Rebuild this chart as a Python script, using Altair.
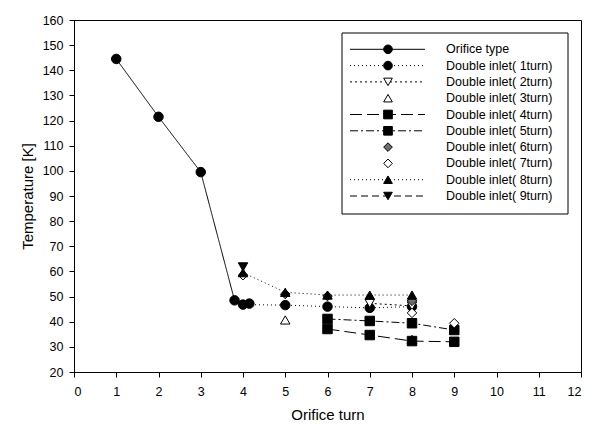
import altair as alt
import pandas as pd

# ---------------- data ----------------
series_names = [
    "Orifice type",
    "Double inlet( 1turn)",
    "Double inlet( 2turn)",
    "Double inlet( 3turn)",
    "Double inlet( 4turn)",
    "Double inlet( 5turn)",
    "Double inlet( 6turn)",
    "Double inlet( 7turn)",
    "Double inlet( 8turn)",
    "Double inlet( 9turn)",
]

orifice_x = [1, 2, 3, 3.8, 4.15]
orifice_y = [144.5, 121.5, 99.5, 48.5, 47.2]
di1_x = [4, 5, 6, 7, 8]
di1_y = [46.8, 46.6, 46.0, 45.5, 46.0]
di2_x = [7, 8]
di2_y = [47.3, 46.3]
di3_x = [5, 8]
di3_y = [40.7, 33.0]
di4_x = [6, 7, 8, 9]
di4_y = [37.1, 34.7, 32.3, 32.0]
di5_x = [6, 7, 8, 9]
di5_y = [41.1, 40.3, 39.4, 36.7]
di6_x = [5, 6, 8]
di6_y = [51.0, 50.2, 48.3]
di7_x = [4, 8, 9]
di7_y = [58.5, 43.5, 39.4]
di8_x = [4, 5, 6, 7, 8]
di8_y = [59.5, 51.7, 50.6, 50.6, 50.6]
di9_x = [4]
di9_y = [61.8]

all_x = [orifice_x, di1_x, di2_x, di3_x, di4_x, di5_x, di6_x, di7_x, di8_x, di9_x]
all_y = [orifice_y, di1_y, di2_y, di3_y, di4_y, di5_y, di6_y, di7_y, di8_y, di9_y]

x_ticks = list(range(0, 13))
y_ticks = list(range(20, 161, 10))

# ---------------- styles ----------------
shapes = ["circle", "circle", "triangle-down", "triangle-up", "square",
          "square", "diamond", "diamond", "triangle-up", "triangle-down"]
fills = ["black", "black", "white", "white", "black",
         "black", "#6e6e6e", "white", "black", "black"]
dashes = [[1, 0], [1, 3], [2, 3], [1, 0], [12, 5],
          [8, 3, 2, 3], [1, 0], [1, 0], [1, 3], [7, 4]]
has_line = [True, True, True, False, True, True, False, False, True, True]

rows = []
for name, xv, yv in zip(series_names, all_x, all_y):
    for a, b in zip(xv, yv):
        rows.append({"series": name, "x": a, "y": b})
df = pd.DataFrame(rows)
line_names = [n for n, h in zip(series_names, has_line) if h]
line_df = df[df["series"].isin(line_names)]

legend_df = pd.DataFrame({"series": series_names, "row": list(range(len(series_names)))})
legend_line_df = legend_df[legend_df["series"].isin(line_names)]

FONT = "Liberation Sans"

x_scale = alt.Scale(domain=[0, 12], nice=False, zero=False)
y_scale = alt.Scale(domain=[20, 160], nice=False, zero=False)
shape_scale = alt.Scale(domain=series_names, range=shapes)
fill_scale = alt.Scale(domain=series_names, range=fills)
dash_scale = alt.Scale(domain=series_names, range=dashes)

x_axis = alt.Axis(values=x_ticks, title="Orifice turn",
                  labelPadding=8, titlePadding=10, labelOverlap=False)
y_axis = alt.Axis(values=y_ticks, title="Temperature [K]",
                  labelPadding=6, titlePadding=7, labelOverlap=False)
x_enc = alt.X("x:Q", scale=x_scale, axis=x_axis)
y_enc = alt.Y("y:Q", scale=y_scale, axis=y_axis)

lines = alt.Chart(line_df).mark_line(color="black", strokeWidth=1).encode(
    x=x_enc, y=y_enc,
    detail="series:N",
    strokeDash=alt.StrokeDash("series:N", scale=dash_scale, legend=None),
    order="x:Q",
)

points = alt.Chart(df).mark_point(filled=True, stroke="black", strokeWidth=1,
                                  opacity=1, size=90).encode(
    x=x_enc, y=y_enc,
    shape=alt.Shape("series:N", scale=shape_scale, legend=None),
    fill=alt.Fill("series:N", scale=fill_scale, legend=None),
)

data_layer = alt.layer(lines, points)

# ---------------- legend ----------------
leg_y = alt.Y("row:Q", scale=alt.Scale(domain=[0, 9], range=[29.3, 176]), axis=None)

box = alt.Chart(pd.DataFrame({"k": [0]})).mark_rect(
    fill="white", stroke="black", strokeWidth=1
).encode(x=alt.value(268), x2=alt.value(494), y=alt.value(13), y2=alt.value(194))

leg_lines = alt.Chart(legend_line_df).mark_rule(color="black", strokeWidth=1).encode(
    y=leg_y, x=alt.value(276), x2=alt.value(351),
    strokeDash=alt.StrokeDash("series:N", scale=dash_scale, legend=None),
)

leg_pts = alt.Chart(legend_df).mark_point(filled=True, stroke="black", strokeWidth=1,
                                          opacity=1, size=75).encode(
    y=leg_y, x=alt.value(314),
    shape=alt.Shape("series:N", scale=shape_scale, legend=None),
    fill=alt.Fill("series:N", scale=fill_scale, legend=None),
)

leg_text = alt.Chart(legend_df).mark_text(
    align="left", baseline="middle", font=FONT, fontSize=12.5, color="black"
).encode(y=leg_y, x=alt.value(372), text="series:N")

legend_layer = alt.layer(box, leg_lines, leg_pts, leg_text)

chart = (
    alt.layer(data_layer, legend_layer)
    .resolve_scale(x="independent", y="independent")
    .properties(
        width=507, height=352, autosize="none",
        padding={"left": 74, "top": 20, "right": 10, "bottom": 56},
        background="white",
    )
    .configure_view(stroke="black", strokeWidth=1)
    .configure_axis(
        grid=False, domainColor="black", tickColor="black", tickSize=5,
        labelColor="black", titleColor="black",
        labelFont=FONT, titleFont=FONT, labelFontSize=12.5, titleFontSize=15,
        titleFontWeight="normal",
    )
)

chart.save("out.html", embed_options={"renderer": "svg", "actions": False})
